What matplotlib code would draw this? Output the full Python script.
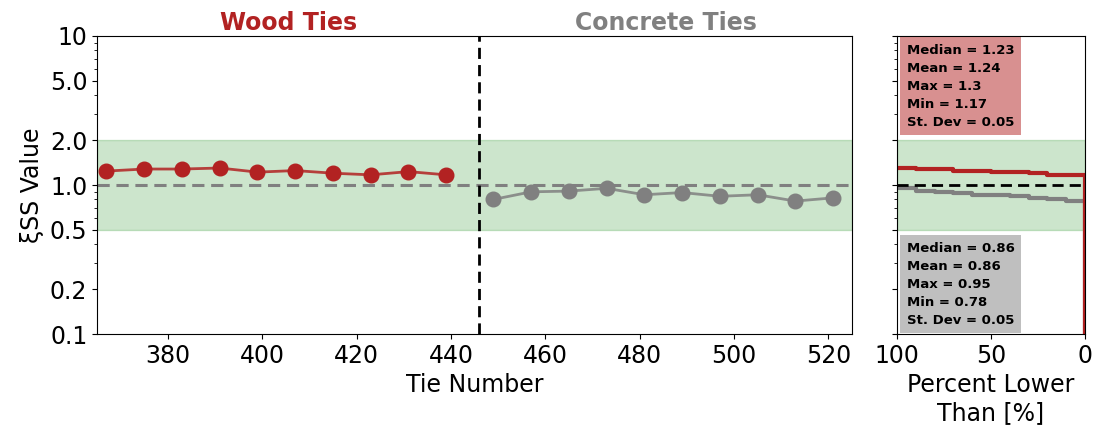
import numpy as np
import matplotlib
matplotlib.use("Agg")
import matplotlib.pyplot as plt
from matplotlib.ticker import NullFormatter

# Tie numbers and measured xi_SS values
wood_ties = [367, 375, 383, 391, 399, 407, 415, 423, 431, 439]
wood_vals = [1.24, 1.28, 1.28, 1.30, 1.22, 1.25, 1.20, 1.17, 1.23, 1.17]
concrete_ties = [449, 457, 465, 473, 481, 489, 497, 505, 513, 521]
concrete_vals = [0.80, 0.90, 0.91, 0.95, 0.86, 0.89, 0.84, 0.86, 0.78, 0.82]

# Summary statistics shown in the side panel
stat_names = ["Median", "Mean", "Max", "Min", "St. Dev"]
wood_stats = ["1.23", "1.24", "1.3", "1.17", "0.05"]
concrete_stats = ["0.86", "0.86", "0.95", "0.78", "0.05"]

group_titles = ["Wood Ties", "Concrete Ties"]
divider_tie = 446
acceptable_band = (0.5, 2.0)
ytick_vals = [0.1, 0.2, 0.5, 1.0, 2.0, 5.0, 10]
ytick_labels = ["0.1", "0.2", "0.5", "1.0", "2.0", "5.0", "10"]
pct_ticks = [100, 50, 0]

WOOD = "firebrick"
CONC = "gray"
FS = 17

fig = plt.figure(figsize=(10.94, 4.25), dpi=100)
ax = fig.add_axes([0.0887, 0.2141, 0.6901, 0.7012])
axr = fig.add_axes([0.8199, 0.2141, 0.1718, 0.7012])

xmin, xmax = 365, 525
ymin, ymax = 0.1, 10

# Main panel
ax.axhspan(*acceptable_band, color="green", alpha=0.2, zorder=0)
ax.axhline(1.0, color="gray", ls="--", lw=2.2, dashes=(4, 2.2), zorder=1)
ax.plot(wood_ties, wood_vals, "-", color=WOOD, lw=2, alpha=0.85, zorder=3)
ax.plot(wood_ties, wood_vals, "o", color=WOOD, ms=10.5, zorder=4)
ax.plot(concrete_ties, concrete_vals, "-", color=CONC, lw=2, alpha=0.85, zorder=3)
ax.plot(concrete_ties, concrete_vals, "o", color=CONC, ms=10.5, zorder=4)
ax.axvline(divider_tie, color="black", ls="--", lw=2, dashes=(4, 2.2), zorder=2)

ax.set_yscale("log")
ax.set_ylim(ymin, ymax)
ax.set_xlim(xmin, xmax)
ax.set_yticks(ytick_vals)
ax.set_yticklabels(ytick_labels)
ax.yaxis.set_minor_formatter(NullFormatter())
ax.tick_params(labelsize=FS)
ax.set_xlabel("Tie Number", fontsize=FS)
ax.set_ylabel("ξSS Value", fontsize=FS)

ax.text((xmin + divider_tie) / 2, 1.005, group_titles[0], color=WOOD,
        fontsize=FS, fontweight="bold", ha="center", va="bottom",
        transform=ax.get_xaxis_transform())
ax.text((divider_tie + xmax) / 2, 1.005, group_titles[1], color=CONC,
        fontsize=FS, fontweight="bold", ha="center", va="bottom",
        transform=ax.get_xaxis_transform())

# Side panel: share of ties lower than each value
axr.axhspan(*acceptable_band, color="green", alpha=0.2, zorder=0)
for vals, col in ((concrete_vals, CONC), (wood_vals, WOOD)):
    v = np.sort(vals)[::-1]
    n = len(v)
    pct = np.linspace(100, 0, n + 1)
    yv = np.append(v, v[-1])
    axr.step(pct, yv, where="post", color=col, lw=3, zorder=2)
    axr.vlines(0, ymin, v[-1], color=col, lw=3, zorder=2)
axr.axhline(1.0, color="black", ls="--", lw=2, dashes=(4, 2.2), zorder=3)

axr.set_yscale("log")
axr.set_ylim(ymin, ymax)
axr.set_xlim(100, 0)
axr.set_xticks(pct_ticks)
axr.set_yticks(ytick_vals)
axr.yaxis.set_major_formatter(NullFormatter())
axr.yaxis.set_minor_formatter(NullFormatter())
axr.tick_params(labelsize=FS)
axr.set_xlabel("Percent Lower\nThan [%]", fontsize=FS)


def stats_text(values):
    return "\n".join(f"{k} = {s}" for k, s in zip(stat_names, values))


box_kw = dict(fontsize=9.5, fontweight="bold", ha="left", linespacing=1.5,
              transform=axr.transAxes, zorder=4)
axr.text(0.053, 0.9735, stats_text(wood_stats), va="top",
         bbox=dict(boxstyle="square,pad=0.5", fc=WOOD, alpha=0.5, ec="none"),
         **box_kw)
axr.text(0.053, 0.0245, stats_text(concrete_stats), va="bottom",
         bbox=dict(boxstyle="square,pad=0.5", fc=CONC, alpha=0.5, ec="none"),
         **box_kw)

fig.savefig("out.png", dpi=100)
